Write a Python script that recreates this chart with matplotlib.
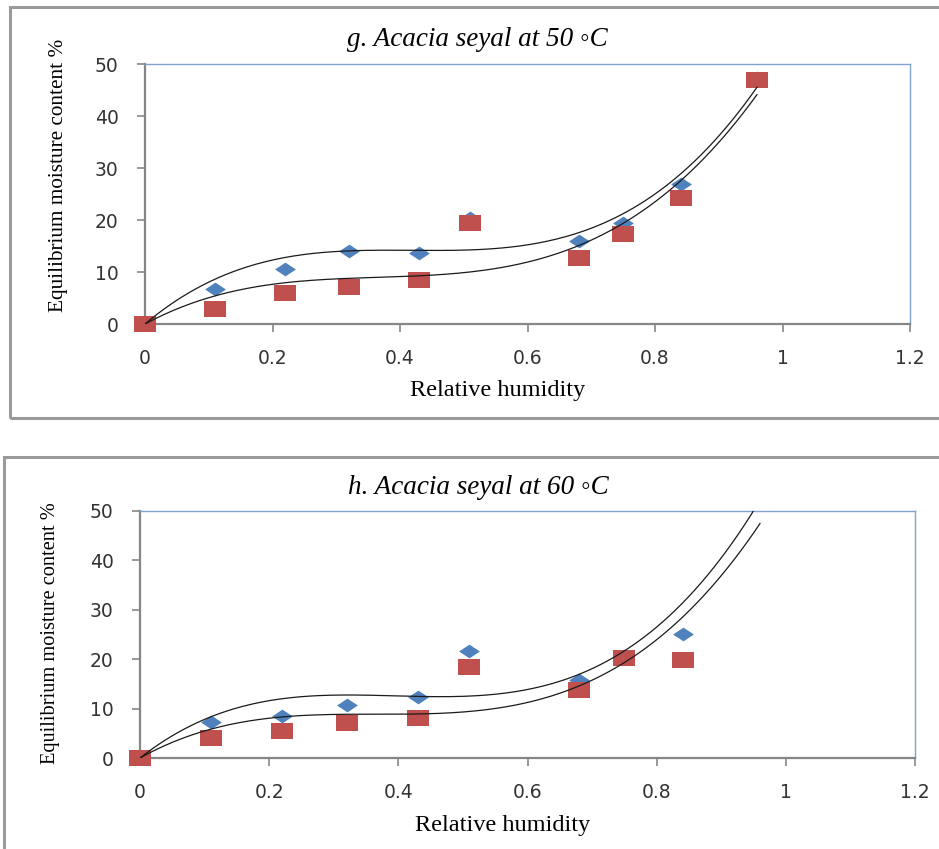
import numpy as np
import matplotlib
matplotlib.use("Agg")
import matplotlib.pyplot as plt
from matplotlib.patches import Rectangle
from matplotlib.path import Path

# relative humidity (x) for both charts
rh = [0, 0.11, 0.22, 0.32, 0.43, 0.51, 0.68, 0.75, 0.84, 0.96]

# g. 50 C  (last blue point sits under the red square)
emc50_blue = [0, 6.7, 10.6, 14.1, 13.7, 20.4, 16.0, 19.4, 26.9, 47.4]
emc50_red = [0, 2.9, 6.0, 7.1, 8.5, 19.5, 12.7, 17.3, 24.2, 46.9]

# h. 60 C  (points at 0.96 are above the axis limit)
emc60_blue = [0, 7.2, 8.6, 10.8, 12.3, 21.7, 15.8, 20.7, 25.1, 56.0]
emc60_red = [0, 4.0, 5.5, 7.1, 8.1, 18.5, 13.7, 20.2, 19.8, 52.0]

titles = ["g. Acacia seyal at 50 \u25e6C", "h. Acacia seyal at 60 \u25e6C"]
xticks = [0, 0.2, 0.4, 0.6, 0.8, 1, 1.2]
yticks = [0, 10, 20, 30, 40, 50]

W, H = 939, 849
fig = plt.figure(figsize=(W / 100, H / 100), dpi=100)

serif = ["Liberation Serif", "DejaVu Serif"]
blue = "#4F81BD"
red = "#C0504D"
grey = "#868686"

# stretched excel markers
diamond = Path([(-1, 0), (0, 0.66), (1, 0), (0, -0.66), (-1, 0)],
               [Path.MOVETO, Path.LINETO, Path.LINETO, Path.LINETO, Path.CLOSEPOLY])
rect = Path([(-1, -0.74), (1, -0.74), (1, 0.74), (-1, 0.74), (-1, -0.74)],
            [Path.MOVETO, Path.LINETO, Path.LINETO, Path.LINETO, Path.CLOSEPOLY])


def px(x0, y0, x1, y1):
    # pixel box (top-left origin) -> figure fraction
    return [x0 / W, 1 - y1 / H, (x1 - x0) / W, (y1 - y0) / H]


def panel(box, frame, title, title_xy, xlab_xy, ylab_xy, ylab_size, blues, reds):
    fig.add_artist(Rectangle((frame[0] / W, 1 - frame[3] / H),
                             (frame[2] - frame[0]) / W, (frame[3] - frame[1]) / H,
                             transform=fig.transFigure, fill=False,
                             edgecolor="#9a9a9a", linewidth=2.2))
    ax = fig.add_axes(px(*box))
    x = np.array(rh)

    ax.scatter(x, blues, marker=diamond, s=15 ** 2, color=blue, zorder=3,
               linewidths=0)
    ax.scatter(x[1:], reds[1:], marker=rect, s=15.8 ** 2, color=red, zorder=4,
               linewidths=0)
    # the origin square overlaps the axes
    ax.scatter(x[0], reds[0], marker=rect, s=15.8 ** 2, color=red, zorder=5,
               clip_on=False, linewidths=0)

    # cubic trendlines through the origin
    xs = np.linspace(0, 0.96, 200)
    A = np.column_stack([x, x ** 2, x ** 3])
    for ys in (blues, reds):
        c, *_ = np.linalg.lstsq(A, np.array(ys), rcond=None)
        yfit = c[0] * xs + c[1] * xs ** 2 + c[2] * xs ** 3
        ax.plot(xs, yfit, color="#1a1a1a", linewidth=0.9, zorder=6)

    ax.set_xlim(0, 1.2)
    ax.set_ylim(0, 50)
    ax.set_xticks(xticks)
    ax.set_xticklabels([f"{t:g}" for t in xticks])
    ax.set_yticks(yticks)
    for s in ("left", "bottom"):
        ax.spines[s].set_color(grey)
        ax.spines[s].set_linewidth(1.6)
    for s in ("top", "right"):
        ax.spines[s].set_color("#7EA3CF")
        ax.spines[s].set_linewidth(1.0)
    ax.tick_params(axis="both", direction="out", length=6, width=1.2, color=grey,
                   labelsize=13.5, labelcolor="#333333")
    ax.tick_params(axis="x", pad=12)
    ax.tick_params(axis="y", pad=13)

    fig.text(title_xy[0] / W, 1 - title_xy[1] / H, title, family=serif,
             style="italic", fontsize=19.5, ha="center", va="center")
    fig.text(xlab_xy[0] / W, 1 - xlab_xy[1] / H, "Relative humidity",
             family=serif, fontsize=17.5, ha="center", va="center")
    fig.text(ylab_xy[0] / W, 1 - ylab_xy[1] / H,
             "Equilibrium moisture content %", family=serif, fontsize=ylab_size,
             rotation=90, ha="center", va="center")
    return ax


panel((145, 64, 910, 324), (10, 7, 945, 418), titles[0], (477, 40), (498, 391),
      (59, 175), 15.3, emc50_blue, emc50_red)
panel((140, 511, 915, 758), (4, 457, 945, 855), titles[1], (478, 487), (503, 826),
      (51, 633), 14.7, emc60_blue, emc60_red)

fig.savefig("out.png", dpi=100)
